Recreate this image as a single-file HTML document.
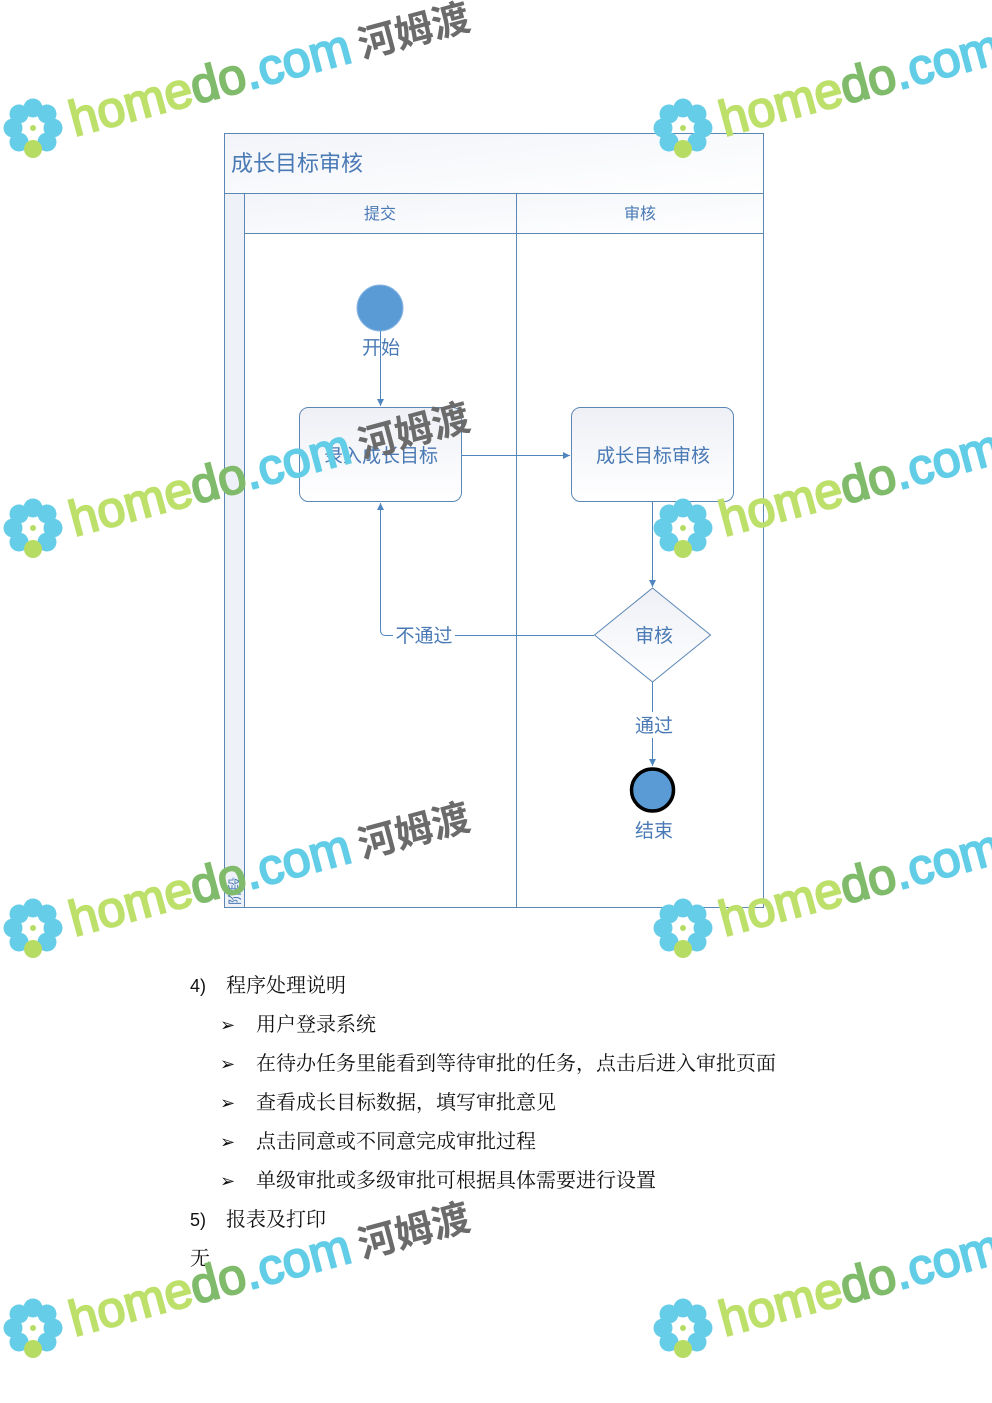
<!DOCTYPE html>
<html><head><meta charset="utf-8">
<style>
html,body{margin:0;padding:0;background:#fff;}
body{width:992px;height:1403px;position:relative;overflow:hidden;}
svg{position:absolute;left:0;top:0;}
.t{font-family:"Liberation Sans","Noto Sans CJK SC",sans-serif;fill:#4a7ab5;}
.b{font-family:"Liberation Serif","Noto Serif CJK SC",serif;font-size:20px;fill:#111;}
.ba{font-family:"Liberation Sans","Noto Sans CJK SC",sans-serif;font-size:18px;fill:#111;}
.wm{font-family:"Liberation Sans",sans-serif;font-size:50px;stroke-width:2;}
.wm .g1{fill:#bde06a;stroke:#bde06a;}
.wm .g2{fill:#7fbb6a;stroke:#7fbb6a;}
.wm .g3{fill:#62cde6;stroke:#62cde6;}
.wc{font-family:"Noto Sans CJK SC",sans-serif;font-weight:bold;font-size:38px;fill:#6b6b6b;}
</style></head><body>
<svg width="992" height="1403" viewBox="0 0 992 1403" xmlns="http://www.w3.org/2000/svg">
<defs>
<linearGradient id="hg" x1="0" y1="0" x2="1" y2="1">
<stop offset="0" stop-color="#f2f4f9"/><stop offset="1" stop-color="#ffffff"/></linearGradient>
<linearGradient id="bg" x1="0" y1="0" x2="0" y2="1">
<stop offset="0" stop-color="#eef0f6"/><stop offset="1" stop-color="#ffffff"/></linearGradient>
<marker id="ar" markerWidth="8" markerHeight="8" refX="7" refY="4" orient="auto" markerUnits="userSpaceOnUse">
<path d="M0,0.5 L7,4 L0,7.5 z" fill="#4f86c0"/></marker>
</defs>
<rect x="224.5" y="133.5" width="539" height="774" fill="#fff" stroke="#5b87b5"/>
<rect x="225" y="134" width="538" height="59" fill="url(#hg)"/>
<line x1="224" y1="193.5" x2="763" y2="193.5" stroke="#5b87b5"/>
<text class="t" x="231" y="171" font-size="22">成长目标审核</text>
<rect x="225" y="194" width="19" height="713" fill="#eef1f7"/>
<line x1="244.5" y1="193" x2="244.5" y2="907" stroke="#5b87b5"/>
<rect x="245" y="194" width="518" height="39" fill="url(#hg)"/>
<line x1="244" y1="233.5" x2="763" y2="233.5" stroke="#5b87b5"/>
<line x1="516.5" y1="193" x2="516.5" y2="907" stroke="#5b87b5"/>
<text class="t" x="380" y="219" font-size="16" text-anchor="middle">提交</text>
<text class="t" x="640" y="219" font-size="16" text-anchor="middle">审核</text>
<text class="t" x="0" y="0" font-size="14" transform="translate(240,905) rotate(-90)">阶段</text>
<circle cx="380" cy="308" r="23" fill="#5b9bd5" stroke="#8db8e3" stroke-width="1"/>
<text class="t" x="381" y="354" font-size="19" text-anchor="middle">开始</text>
<line x1="380.5" y1="331" x2="380.5" y2="406" stroke="#4f86c0" marker-end="url(#ar)"/>
<rect x="299.5" y="407.5" width="162" height="94" rx="9" fill="url(#bg)" stroke="#5b87b5"/>
<text class="t" x="381" y="462" font-size="19" text-anchor="middle">录入成长目标</text>
<rect x="571.5" y="407.5" width="162" height="94" rx="9" fill="url(#bg)" stroke="#5b87b5"/>
<text class="t" x="653" y="462" font-size="19" text-anchor="middle">成长目标审核</text>
<line x1="462" y1="455.5" x2="570" y2="455.5" stroke="#4f86c0" marker-end="url(#ar)"/>
<line x1="652.5" y1="502" x2="652.5" y2="587" stroke="#4f86c0" marker-end="url(#ar)"/>
<polygon points="652.5,588 710.5,635 652.5,682 594.5,635" fill="url(#bg)" stroke="#5b87b5"/>
<text class="t" x="654" y="642" font-size="19" text-anchor="middle">审核</text>
<path d="M594,635.5 L455,635.5 M393,635.5 L386,635.5 Q380.5,635.5 380.5,630 L380.5,503" fill="none" stroke="#4f86c0" marker-end="url(#ar)"/>
<text class="t" x="424" y="642" font-size="19" text-anchor="middle">不通过</text>
<line x1="652.5" y1="682" x2="652.5" y2="712" stroke="#4f86c0"/>
<text class="t" x="654" y="732" font-size="19" text-anchor="middle">通过</text>
<line x1="652.5" y1="738" x2="652.5" y2="766" stroke="#4f86c0" marker-end="url(#ar)"/>
<circle cx="652.5" cy="790" r="21" fill="#5b9bd5" stroke="#000" stroke-width="3.5"/>
<text class="t" x="654" y="837" font-size="19" text-anchor="middle">结束</text>
<text class="ba" x="190" y="992">4)</text>
<text class="b" x="226" y="992">程序处理说明</text>
<text class="ba" x="220" y="1031" font-size="16">➢</text><text class="b" x="256" y="1031">用户登录系统</text>
<text class="ba" x="220" y="1070" font-size="16">➢</text><text class="b" x="256" y="1070">在待办任务里能看到等待审批的任务，点击后进入审批页面</text>
<text class="ba" x="220" y="1109" font-size="16">➢</text><text class="b" x="256" y="1109">查看成长目标数据，填写审批意见</text>
<text class="ba" x="220" y="1148" font-size="16">➢</text><text class="b" x="256" y="1148">点击同意或不同意完成审批过程</text>
<text class="ba" x="220" y="1187" font-size="16">➢</text><text class="b" x="256" y="1187">单级审批或多级审批可根据具体需要进行设置</text>
<text class="ba" x="190" y="1226">5)</text>
<text class="b" x="226" y="1226">报表及打印</text>
<text class="b" x="190" y="1265">无</text>

<g transform="translate(33,128)"><g fill="#66cde8"><circle cx="0" cy="-20" r="9.5"/><circle cx="14" cy="-14" r="9.5"/><circle cx="20" cy="0" r="9.5"/><circle cx="14" cy="14" r="9.5"/><circle cx="-14" cy="14" r="9.5"/><circle cx="-20" cy="0" r="9.5"/><circle cx="-14" cy="-14" r="9.5"/></g><circle cx="0" cy="21" r="9" fill="#b7dc63"/><circle cx="0" cy="0" r="3" fill="#b7dc63"/>
<g transform="rotate(-15)"><text class="wm" x="38" y="19"><tspan class="g1">home</tspan><tspan class="g2">do</tspan><tspan class="g3">.com</tspan></text><text class="wc" x="336" y="18">河姆渡</text></g></g>
<g transform="translate(33,528)"><g fill="#66cde8"><circle cx="0" cy="-20" r="9.5"/><circle cx="14" cy="-14" r="9.5"/><circle cx="20" cy="0" r="9.5"/><circle cx="14" cy="14" r="9.5"/><circle cx="-14" cy="14" r="9.5"/><circle cx="-20" cy="0" r="9.5"/><circle cx="-14" cy="-14" r="9.5"/></g><circle cx="0" cy="21" r="9" fill="#b7dc63"/><circle cx="0" cy="0" r="3" fill="#b7dc63"/>
<g transform="rotate(-15)"><text class="wm" x="38" y="19"><tspan class="g1">home</tspan><tspan class="g2">do</tspan><tspan class="g3">.com</tspan></text><text class="wc" x="336" y="18">河姆渡</text></g></g>
<g transform="translate(33,928)"><g fill="#66cde8"><circle cx="0" cy="-20" r="9.5"/><circle cx="14" cy="-14" r="9.5"/><circle cx="20" cy="0" r="9.5"/><circle cx="14" cy="14" r="9.5"/><circle cx="-14" cy="14" r="9.5"/><circle cx="-20" cy="0" r="9.5"/><circle cx="-14" cy="-14" r="9.5"/></g><circle cx="0" cy="21" r="9" fill="#b7dc63"/><circle cx="0" cy="0" r="3" fill="#b7dc63"/>
<g transform="rotate(-15)"><text class="wm" x="38" y="19"><tspan class="g1">home</tspan><tspan class="g2">do</tspan><tspan class="g3">.com</tspan></text><text class="wc" x="336" y="18">河姆渡</text></g></g>
<g transform="translate(33,1328)"><g fill="#66cde8"><circle cx="0" cy="-20" r="9.5"/><circle cx="14" cy="-14" r="9.5"/><circle cx="20" cy="0" r="9.5"/><circle cx="14" cy="14" r="9.5"/><circle cx="-14" cy="14" r="9.5"/><circle cx="-20" cy="0" r="9.5"/><circle cx="-14" cy="-14" r="9.5"/></g><circle cx="0" cy="21" r="9" fill="#b7dc63"/><circle cx="0" cy="0" r="3" fill="#b7dc63"/>
<g transform="rotate(-15)"><text class="wm" x="38" y="19"><tspan class="g1">home</tspan><tspan class="g2">do</tspan><tspan class="g3">.com</tspan></text><text class="wc" x="336" y="18">河姆渡</text></g></g>
<g transform="translate(683,128)"><g fill="#66cde8"><circle cx="0" cy="-20" r="9.5"/><circle cx="14" cy="-14" r="9.5"/><circle cx="20" cy="0" r="9.5"/><circle cx="14" cy="14" r="9.5"/><circle cx="-14" cy="14" r="9.5"/><circle cx="-20" cy="0" r="9.5"/><circle cx="-14" cy="-14" r="9.5"/></g><circle cx="0" cy="21" r="9" fill="#b7dc63"/><circle cx="0" cy="0" r="3" fill="#b7dc63"/>
<g transform="rotate(-15)"><text class="wm" x="38" y="19"><tspan class="g1">home</tspan><tspan class="g2">do</tspan><tspan class="g3">.com</tspan></text></g></g>
<g transform="translate(683,528)"><g fill="#66cde8"><circle cx="0" cy="-20" r="9.5"/><circle cx="14" cy="-14" r="9.5"/><circle cx="20" cy="0" r="9.5"/><circle cx="14" cy="14" r="9.5"/><circle cx="-14" cy="14" r="9.5"/><circle cx="-20" cy="0" r="9.5"/><circle cx="-14" cy="-14" r="9.5"/></g><circle cx="0" cy="21" r="9" fill="#b7dc63"/><circle cx="0" cy="0" r="3" fill="#b7dc63"/>
<g transform="rotate(-15)"><text class="wm" x="38" y="19"><tspan class="g1">home</tspan><tspan class="g2">do</tspan><tspan class="g3">.com</tspan></text></g></g>
<g transform="translate(683,928)"><g fill="#66cde8"><circle cx="0" cy="-20" r="9.5"/><circle cx="14" cy="-14" r="9.5"/><circle cx="20" cy="0" r="9.5"/><circle cx="14" cy="14" r="9.5"/><circle cx="-14" cy="14" r="9.5"/><circle cx="-20" cy="0" r="9.5"/><circle cx="-14" cy="-14" r="9.5"/></g><circle cx="0" cy="21" r="9" fill="#b7dc63"/><circle cx="0" cy="0" r="3" fill="#b7dc63"/>
<g transform="rotate(-15)"><text class="wm" x="38" y="19"><tspan class="g1">home</tspan><tspan class="g2">do</tspan><tspan class="g3">.com</tspan></text></g></g>
<g transform="translate(683,1328)"><g fill="#66cde8"><circle cx="0" cy="-20" r="9.5"/><circle cx="14" cy="-14" r="9.5"/><circle cx="20" cy="0" r="9.5"/><circle cx="14" cy="14" r="9.5"/><circle cx="-14" cy="14" r="9.5"/><circle cx="-20" cy="0" r="9.5"/><circle cx="-14" cy="-14" r="9.5"/></g><circle cx="0" cy="21" r="9" fill="#b7dc63"/><circle cx="0" cy="0" r="3" fill="#b7dc63"/>
<g transform="rotate(-15)"><text class="wm" x="38" y="19"><tspan class="g1">home</tspan><tspan class="g2">do</tspan><tspan class="g3">.com</tspan></text></g></g>
</svg>
</body></html>
